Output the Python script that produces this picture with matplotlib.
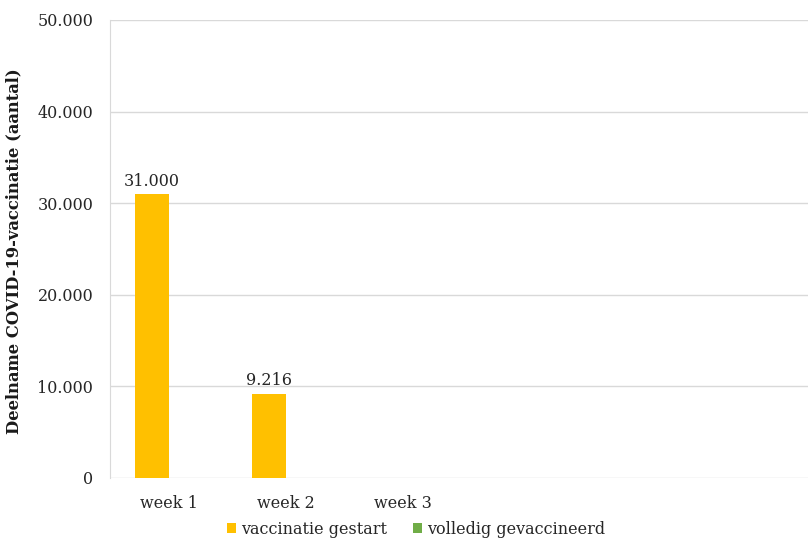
import matplotlib
matplotlib.use("Agg")
import matplotlib.pyplot as plt
import numpy as np

categories = ["week 1", "week 2", "week 3"]
gestart = [31000, 9216, 0]
volledig = [0, 0, 0]
series_names = ["vaccinatie gestart", "volledig gevaccineerd"]
yticks = [0, 10000, 20000, 30000, 40000, 50000]
ytick_labels = ["0", "10.000", "20.000", "30.000", "40.000", "50.000"]
ylabel = "Deelname COVID-19-vaccinatie (aantal)"

plt.rcParams['font.family'] = ['DejaVu Serif']

W, H = 808, 538
fig = plt.figure(figsize=(W / 100, H / 100), dpi=100)
ax = fig.add_axes([110 / W, (H - 478) / H, (812 - 110) / W, (478 - 20) / H])

x = np.arange(len(categories))
bw = 0.29
yellow = "#FFC000"
green = "#70AD47"
b1 = ax.bar(x - bw / 2, gestart, width=bw, color=yellow, label=series_names[0], zorder=3)
b2 = ax.bar(x + bw / 2, volledig, width=bw, color=green, label=series_names[1], zorder=3)

for xi, v in zip(x, gestart):
    if v > 0:
        ax.annotate(f"{v:,}".replace(",", "."), (xi - bw / 2, v), xytext=(0, 3),
                    textcoords="offset points", ha="center", va="bottom",
                    fontsize=11.5, color="#262626")

ax.set_xlim(-0.5, 5.5)
ax.set_ylim(0, 50000)
ax.set_yticks(yticks)
ax.set_yticklabels(ytick_labels)
ax.set_xticks(x)
ax.set_xticklabels(categories)
ax.tick_params(axis="both", length=0, labelsize=11.5, colors="#262626")
ax.tick_params(axis="x", pad=12)
ax.tick_params(axis="y", pad=12)
ax.grid(axis="y", color="#d9d9d9", linewidth=1, zorder=0)
for s in ["top", "right", "bottom"]:
    ax.spines[s].set_visible(False)
ax.spines["left"].set_color("#d9d9d9")
ax.set_ylabel(ylabel, fontsize=11.8, fontweight="bold", color="#1a1a1a")
ax.yaxis.set_label_coords((22 - 110) / 702, 0.495)

fig.legend(handles=[b1, b2], labels=series_names, loc="center",
           bbox_to_anchor=(416 / W, 1 - 529 / H), ncol=2, frameon=False,
           fontsize=11.5, handlelength=0.6, handleheight=0.6, handletextpad=0.3,
           columnspacing=1.6, labelcolor="#262626")

fig.savefig("out.png", dpi=100)
